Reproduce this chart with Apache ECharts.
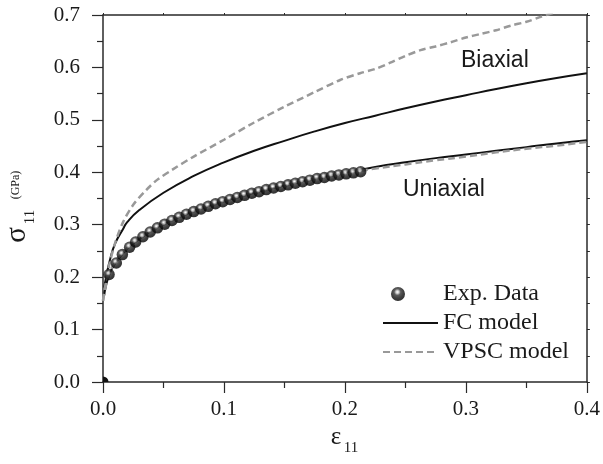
<!DOCTYPE html>
<html>
<head>
<meta charset="utf-8">
<script src="https://cdn.jsdelivr.net/npm/echarts@6/dist/echarts.min.js"></script>
<style>html,body{margin:0;padding:0;background:#fff;}#c{width:603px;height:464px;}</style>
</head>
<body>
<div id="c"></div>
<script>
// ---- data ----
const xTicks = [0.0, 0.1, 0.2, 0.3, 0.4];
const yTicks = [0.0, 0.1, 0.2, 0.3, 0.4, 0.5, 0.6, 0.7];

const expStrain = [0.005, 0.011, 0.016, 0.022, 0.027, 0.033, 0.039, 0.045, 0.051, 0.057, 0.063, 0.069,
  0.075, 0.081, 0.087, 0.093, 0.099, 0.105, 0.111, 0.117, 0.123, 0.129, 0.135, 0.141, 0.147, 0.153,
  0.159, 0.165, 0.171, 0.177, 0.183, 0.189, 0.195, 0.201, 0.207, 0.213];
const expStress = [0.205, 0.227, 0.243, 0.257, 0.267, 0.277, 0.286, 0.294, 0.301, 0.308, 0.314, 0.320,
  0.325, 0.330, 0.335, 0.340, 0.344, 0.348, 0.352, 0.356, 0.360, 0.363, 0.367, 0.370, 0.373, 0.376,
  0.379, 0.382, 0.385, 0.388, 0.390, 0.393, 0.395, 0.397, 0.399, 0.401];
const expOriginStrain = [0.0];
const expOriginStress = [0.0];

const fcBiStrain = [0.001, 0.003, 0.006, 0.01, 0.0166, 0.02, 0.03, 0.05, 0.075, 0.1, 0.125, 0.15, 0.175,
  0.2, 0.225, 0.25, 0.275, 0.3, 0.325, 0.35, 0.375, 0.4];
const fcBiStress = [0.18, 0.205, 0.235, 0.264, 0.292, 0.305, 0.328, 0.361, 0.393, 0.419, 0.441, 0.460, 0.478,
  0.494, 0.508, 0.522, 0.535, 0.547, 0.559, 0.570, 0.580, 0.589];

const fcUniStrain = [0.001, 0.002, 0.005, 0.01, 0.02, 0.03, 0.05, 0.075, 0.1, 0.125, 0.15, 0.175, 0.2,
  0.225, 0.25, 0.275, 0.3, 0.325, 0.35, 0.375, 0.4];
const fcUniStress = [0.165, 0.179, 0.203, 0.226, 0.254, 0.273, 0.301, 0.326, 0.345, 0.361, 0.375, 0.388, 0.399,
  0.410, 0.419, 0.427, 0.434, 0.441, 0.448, 0.455, 0.461];

const vpscBiStrain = [0, 0.002, 0.005, 0.01, 0.0166, 0.025, 0.0357, 0.045, 0.0574, 0.075, 0.1, 0.125, 0.15, 0.175,
  0.196, 0.2125, 0.225, 0.2375, 0.25, 0.2625, 0.275, 0.2875, 0.3, 0.3125, 0.325, 0.3375, 0.35, 0.3625, 0.375];
const vpscBiStress = [0.155, 0.185, 0.222, 0.265, 0.305, 0.338, 0.366, 0.386, 0.405, 0.430, 0.462, 0.495, 0.525, 0.553,
  0.576, 0.589, 0.597, 0.609, 0.622, 0.633, 0.640, 0.648, 0.657, 0.664, 0.671, 0.680, 0.687, 0.697, 0.706];

const vpscUniStrain = [0, 0.002, 0.005, 0.01, 0.02, 0.03, 0.05, 0.075, 0.1, 0.125, 0.15, 0.175, 0.2,
  0.225, 0.25, 0.275, 0.3, 0.325, 0.35, 0.375, 0.4];
const vpscUniStress = [0.155, 0.18, 0.205, 0.228, 0.255, 0.274, 0.300, 0.325, 0.344, 0.360, 0.374, 0.387, 0.398,
  0.407, 0.415, 0.423, 0.430, 0.438, 0.445, 0.451, 0.458];

const seriesNames = ['Exp. Data', 'FC model', 'VPSC model'];
const annotations = ['Biaxial', 'Uniaxial'];

// ---- build ----
const zip = (a, b) => a.map((v, i) => [v, b[i]]);
const SERIF = '"Liberation Serif", "DejaVu Serif", serif';
const SANS = '"Liberation Sans", Arial, sans-serif';
const TXT = '#1a1a1a';
const AX = '#2a2a2a';

const sphereStops = [
  { offset: 0, color: '#ffffff' },
  { offset: 0.16, color: '#c8c8c8' },
  { offset: 0.38, color: '#333333' },
  { offset: 0.7, color: '#111111' },
  { offset: 1, color: '#000000' }
];
const sphere = { type: 'radial', x: 0.42, y: 0.36, r: 0.62, colorStops: sphereStops };
const legendSphere = { type: 'radial', x: 0.262, y: 0.36, r: 0.62, colorStops: sphereStops };

const axisCommon = {
  min: 0,
  axisLine: { show: true, onZero: false, lineStyle: { color: AX, width: 1.5 } },
  splitLine: { show: false },
  minorTick: { show: true, splitNumber: 2, length: 6, lineStyle: { color: AX, width: 1.2 } },
  axisTick: { show: true, inside: false, length: 11, lineStyle: { color: AX, width: 1.2 } }
};
const hidden = { color: 'rgba(0,0,0,0)', borderColor: 'rgba(0,0,0,0)', borderWidth: 0, opacity: 0 };

const chart = echarts.init(document.getElementById('c'), null, { renderer: 'canvas' });
chart.setOption({
  animation: false,
  backgroundColor: '#fff',
  grid: { left: 103, right: 10, top: 15, bottom: 82 },
  xAxis: [
    Object.assign({}, axisCommon, {
      type: 'value', position: 'bottom', max: 0.4, interval: 0.1,
      axisLabel: { margin: 17, fontFamily: SERIF, fontSize: 21, color: TXT,
        formatter: v => xTicks.find(t => Math.abs(t - v) < 1e-9).toFixed(1) }
    }),
    Object.assign({}, axisCommon, {
      type: 'value', position: 'top', max: 0.4, interval: 0.1,
      axisTick: { show: true, length: 2, lineStyle: { color: AX } },
      minorTick: { show: true, splitNumber: 2, length: 2, lineStyle: { color: AX } },
      axisLabel: { show: false }
    })
  ],
  yAxis: [
    Object.assign({}, axisCommon, {
      type: 'value', position: 'left', max: 0.7, interval: 0.1,
      axisLabel: { margin: 23, fontFamily: SERIF, fontSize: 21, color: TXT,
        formatter: v => yTicks.find(t => Math.abs(t - v) < 1e-9).toFixed(1) }
    }),
    Object.assign({}, axisCommon, {
      type: 'value', position: 'right', max: 0.7, interval: 0.1,
      axisTick: { show: true, length: 3, lineStyle: { color: AX } },
      minorTick: { show: true, splitNumber: 2, length: 3, lineStyle: { color: AX } },
      axisLabel: { show: false }
    })
  ],
  legend: {
    left: 377, top: 277, orient: 'vertical',
    itemWidth: 55, itemHeight: 14, itemGap: 5,
    textStyle: { fontFamily: SERIF, fontSize: 24, color: TXT, lineHeight: 24 },
    data: [
      { name: seriesNames[0], icon: 'path://M8,7A7,7,0,1,1,22,7A7,7,0,1,1,8,7ZM0,0L0,0.01M55,14L55,13.99',
        itemStyle: { color: legendSphere } },
      { name: seriesNames[1], itemStyle: hidden },
      { name: seriesNames[2], itemStyle: hidden }
    ]
  },
  series: [
    { name: seriesNames[1], type: 'line', data: zip(fcUniStrain, fcUniStress), symbol: 'none', smooth: true,
      lineStyle: { color: '#111', width: 2 }, itemStyle: { color: '#111' }, z: 2 },
    { name: seriesNames[2], type: 'line', data: zip(vpscUniStrain, vpscUniStress), symbol: 'none', smooth: true,
      lineStyle: { color: '#999', width: 2.5, type: [7, 4] }, itemStyle: { color: '#999' }, z: 3 },
    { name: seriesNames[1], type: 'line', data: zip(fcBiStrain, fcBiStress), symbol: 'none', smooth: true,
      lineStyle: { color: '#111', width: 2 }, itemStyle: { color: '#111' }, z: 2 },
    { name: seriesNames[2], type: 'line', data: zip(vpscBiStrain, vpscBiStress), symbol: 'none', smooth: 0.3,
      lineStyle: { color: '#999', width: 2.5, type: [7, 4] }, itemStyle: { color: '#999' }, z: 3 },
    { name: seriesNames[0], type: 'scatter', data: zip(expStrain, expStress), symbol: 'circle', symbolSize: 11.5,
      itemStyle: { color: sphere }, z: 5 },
    { name: seriesNames[0], type: 'custom', clip: true, z: 5,
      data: zip(expOriginStrain, expOriginStress),
      renderItem: (params, api) => {
        const p = api.coord([api.value(0), api.value(1)]);
        return { type: 'circle', shape: { cx: p[0], cy: p[1], r: 5.5 }, style: { fill: '#111' } };
      } }
  ],
  graphic: [
    { type: 'text', left: 461, top: 49, style: { text: annotations[0], font: '23px ' + SANS, fill: TXT } },
    { type: 'text', left: 403, top: 178, style: { text: annotations[1], font: '23px ' + SANS, fill: TXT } },
    // x axis title
    { type: 'text', x: 336, y: 437, style: { text: 'ε', font: '25px ' + SERIF, fill: TXT, align: 'center', verticalAlign: 'middle' } },
    { type: 'text', x: 351, y: 448, style: { text: '11', font: '15px ' + SERIF, fill: TXT, align: 'center', verticalAlign: 'middle' } },
    // y axis title
    { type: 'text', x: 17, y: 235, rotation: Math.PI / 2, style: { text: 'σ', font: '29px ' + SERIF, fill: TXT, align: 'center', verticalAlign: 'middle' } },
    { type: 'text', x: 30, y: 217, rotation: Math.PI / 2, style: { text: '11', font: '15px ' + SERIF, fill: TXT, align: 'center', verticalAlign: 'middle' } },
    { type: 'text', x: 16, y: 185, rotation: Math.PI / 2, style: { text: '(GPa)', font: '12px ' + SERIF, fill: TXT, align: 'center', verticalAlign: 'middle' } }
  ]
});
</script>
</body>
</html>
